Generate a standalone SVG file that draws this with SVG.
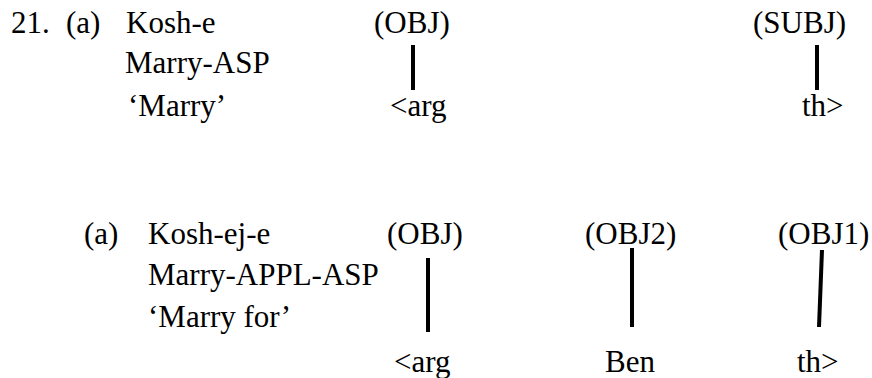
<svg xmlns="http://www.w3.org/2000/svg" width="872" height="378" viewBox="0 0 872 378">
  <style>
    text { font-family: "Liberation Serif", "Times New Roman", serif; font-size: 31px; fill: #000; }
    .link { stroke: #000; stroke-width: 4; fill: none; }
  </style>
  <rect width="872" height="378" fill="#fff"/>

  <!-- 21 (a): Kosh-e -->
  <g id="ex21a-gloss">
    <text x="11" y="33">21.</text>
    <text x="66" y="33">(a)</text>
    <text x="126" y="33">Kosh-e</text>
    <text x="125" y="73">Marry-ASP</text>
    <text x="128" y="116">‘Marry’</text>
  </g>
  <g id="ex21a-obj"><text x="374" y="33">(OBJ)</text></g>
  <g id="ex21a-subj"><text x="753" y="33">(SUBJ)</text></g>
  <g id="ex21a-arg"><text x="390" y="116">&lt;arg</text></g>
  <g id="ex21a-th"><text x="802" y="116">th&gt;</text></g>

  <!-- (a): Kosh-ej-e -->
  <g id="ex21b-gloss">
    <text x="84" y="244">(a)</text>
    <text x="148" y="244">Kosh-ej-e</text>
    <text x="148" y="285">Marry-APPL-ASP</text>
    <text x="148" y="327">‘Marry for’</text>
  </g>
  <g id="ex21b-obj"><text x="387" y="244">(OBJ)</text></g>
  <g id="ex21b-obj2"><text x="585" y="244">(OBJ2)</text></g>
  <g id="ex21b-obj1"><text x="778" y="244">(OBJ1)</text></g>
  <g id="ex21b-arg"><text x="394" y="372">&lt;arg</text></g>
  <g id="ex21b-ben"><text x="605" y="372">Ben</text></g>
  <g id="ex21b-th"><text x="797" y="372">th&gt;</text></g>

  <!-- association lines -->
  <g id="connectors">
    <line class="link" x1="413" y1="45" x2="413" y2="90"/>
    <line class="link" x1="817" y1="45" x2="817" y2="90"/>
    <line class="link" x1="428" y1="258" x2="428" y2="332"/>
    <line class="link" x1="632" y1="248" x2="632" y2="327"/>
    <line class="link" x1="822" y1="250" x2="819" y2="327"/>
  </g>
</svg>
